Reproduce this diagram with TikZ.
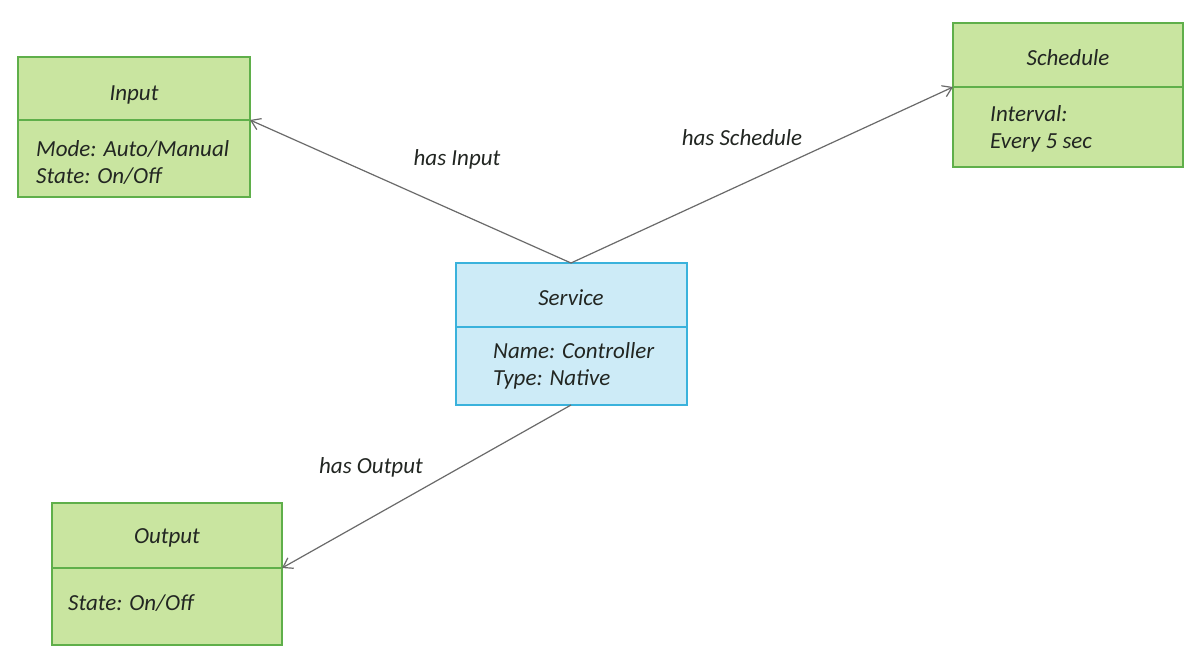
\documentclass[tikz,border=0pt]{standalone}
\usepackage{fontspec}
\setmainfont{Carlito}
\usetikzlibrary{arrows.meta}
\definecolor{gfill}{HTML}{C9E5A0}
\definecolor{gline}{HTML}{5FAF4A}
\definecolor{bfill}{HTML}{CDEBF7}
\definecolor{bline}{HTML}{3AB2DC}
\definecolor{txt}{HTML}{222622}
\definecolor{conn}{HTML}{6A6A6A}
\tikzset{
  gbox/.style={draw=gline, fill=gfill, line width=1.8pt, inner sep=0pt},
  bbox/.style={draw=bline, fill=bfill, line width=1.8pt, inner sep=0pt},
  title/.style={font=\fontsize{23}{27}\selectfont\itshape, text=txt, inner sep=0pt},
  attr/.style={font=\fontsize{23}{27}\selectfont\itshape, text=txt, inner sep=0pt, anchor=west, align=left},
  lbl/.style={font=\fontsize{23}{27}\selectfont\itshape, text=txt, inner sep=0pt},
  conn/.style={draw=conn, line width=1.2pt, -{Straight Barb[length=9pt,width=12pt]}}
}
\begin{document}
\begin{tikzpicture}[x=1pt,y=-1pt]
\useasboundingbox (0,0) rectangle (1198,661);
\fill[white] (0,0) rectangle (1198,661);
% Input
\draw[gbox] (18,57) rectangle (250,197);
\draw[draw=gline, line width=1.8pt] (18,120) -- (250,120) coordinate (inDiv);
\node[title] (inT) at (134,95) {Input};
\node[attr] (inA) at (36,163) {Mode: Auto/Manual\\State: On/Off};
% Schedule
\draw[gbox] (953,23) rectangle (1183,167);
\draw[draw=gline, line width=1.8pt] (1183,87) -- (953,87) coordinate (scDiv);
\node[title] (scT) at (1068,58) {Schedule};
\node[attr] (scA) at (990,129) {Interval:\\Every 5 sec};
% Service
\draw[bbox] (456,263) rectangle (687,405);
\draw[draw=bline, line width=1.8pt] (456,327) -- (687,327);
\coordinate (svTop) at (571,263);
\coordinate (svBot) at (571,405);
\node[title] (svT) at (571,298) {Service};
\node[attr] (svA) at (493,366) {Name: Controller\\Type: Native};
% Output
\draw[gbox] (52,503) rectangle (282,645);
\draw[draw=gline, line width=1.8pt] (52,568) -- (282,568) coordinate (ouDiv);
\node[title] (ouT) at (167,538) {Output};
\node[attr] (ouA) at (68,603) {State: On/Off};
% connectors
\draw[conn] (svTop) -- (inDiv);
\draw[conn] (svTop) -- (scDiv);
\draw[conn] (svBot) -- (ouDiv);
\node[lbl] (l1) at (457,159) {has Input};
\node[lbl] (l2) at (742,138) {has Schedule};
\node[lbl] (l3) at (371,467) {has Output};
\end{tikzpicture}
\end{document}
